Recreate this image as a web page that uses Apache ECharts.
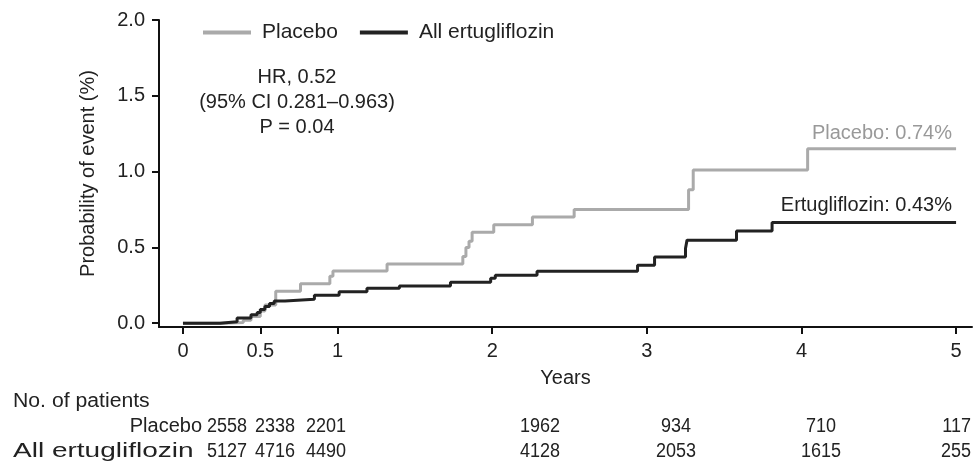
<!DOCTYPE html>
<html>
<head>
<meta charset="utf-8">
<script src="https://cdn.jsdelivr.net/npm/echarts@6/dist/echarts.min.js"></script>
<style>html,body{margin:0;padding:0;background:#fff;}#c{width:973px;height:465px;}</style>
</head>
<body>
<div id="c"></div>
<script>
// ---- Data ----
const placeboYears = [0, 0.25, 0.39, 0.44, 0.50, 0.53, 0.60, 0.76, 0.95, 0.97, 1.32, 1.81, 1.83, 1.85, 1.87, 2.01, 2.26, 2.53, 3.27, 3.30, 4.04, 5.00];
const placeboProb  = [0, 0.005, 0.02, 0.045, 0.08, 0.12, 0.21, 0.26, 0.31, 0.345, 0.39, 0.44, 0.50, 0.54, 0.60, 0.65, 0.70, 0.75, 0.88, 1.01, 1.15, 1.15];
const ertuYears = [0, 0.24, 0.35, 0.44, 0.48, 0.50, 0.53, 0.56, 0.59, 0.66, 0.85, 1.01, 1.19, 1.40, 1.73, 1.99, 2.02, 2.29, 2.94, 3.05, 3.25, 3.26, 3.58, 3.81, 5.00];
const ertuProb  = [0, 0.01, 0.035, 0.055, 0.07, 0.09, 0.11, 0.13, 0.147, 0.158, 0.185, 0.207, 0.23, 0.245, 0.27, 0.297, 0.317, 0.343, 0.383, 0.437, 0.493, 0.548, 0.609, 0.665, 0.665];
const xTicks = [0, 0.5, 1, 2, 3, 4, 5];
const yTicks = [0, 0.5, 1.0, 1.5, 2.0];
const seriesNames = ['Placebo', 'All ertugliflozin'];
const endLabels = ['Placebo: 0.74%', 'Ertugliflozin: 0.43%'];
const statLines = ['HR, 0.52', '(95% CI 0.281\u20130.963)', 'P = 0.04'];
const tableTitle = 'No. of patients';
const placeboAtRisk = ['2558', '2338', '2201', '1962', '934', '710', '117'];
const ertuAtRisk = ['5127', '4716', '4490', '4128', '2053', '1615', '255'];

// ---- Layout (pixels) ----
const FONT = '"Liberation Sans", Arial, Helvetica, sans-serif';
const colCenters = [227, 275, 326, 540, 676, 821, 971];
const rowY = [426, 451];

const chart = echarts.init(document.getElementById('c'));
const pairs = (xs, ys) => xs.map((x, i) => [x, ys[i]]);

function txt(t, x, y, align, fill, extra) {
  return Object.assign({type: 'text', x: x, y: y,
    style: {text: t, fill: fill || '#222', font: '20px ' + FONT, textAlign: align, textVerticalAlign: 'middle', align: align, verticalAlign: 'middle'}}, extra || {});
}

const graphics = [];
statLines.forEach((t, i) => graphics.push(txt(t, 297, 77 + i * 25, 'center')));
graphics.push(txt(endLabels[0], 952, 133, 'right', '#999'));
graphics.push(txt(endLabels[1], 952, 205, 'right', '#222'));
graphics.push(txt(tableTitle, 13, 401, 'left', '#222', {scaleX: 1.06}));
graphics.push(txt(seriesNames[0], 202, rowY[0], 'right'));
graphics.push(txt(seriesNames[1], 13, rowY[1], 'left', '#222', {scaleX: 1.4}));
[placeboAtRisk, ertuAtRisk].forEach((row, r) => {
  row.forEach((v, i) => {
    const last = i === row.length - 1;
    graphics.push(txt(v, colCenters[i], rowY[r], last ? 'right' : 'center', '#222', {scaleX: 0.9}));
  });
});

chart.setOption({
  animation: false,
  backgroundColor: '#fff',
  grid: {left: 159, right: 1, top: 20, bottom: 138, containLabel: false},
  legend: {
    left: 203, top: 22, padding: 0, itemWidth: 48, itemHeight: 4, itemGap: 22, icon: 'rect',
    data: seriesNames,
    textStyle: {fontSize: 21, fontFamily: FONT, color: '#222', padding: [0, 0, 0, 6]}
  },
  xAxis: {
    type: 'value', min: -0.155, max: 5.103,
    name: 'Years', nameLocation: 'middle', nameGap: 41,
    nameTextStyle: {fontSize: 20, fontFamily: FONT, color: '#222'},
    axisLine: {onZero: false, lineStyle: {color: '#111', width: 2}},
    axisTick: {show: true, length: 7, lineStyle: {color: '#111', width: 2}, customValues: xTicks},
    axisLabel: {fontSize: 20, fontFamily: FONT, color: '#222', margin: 14, customValues: xTicks, formatter: v => String(v)},
    splitLine: {show: false}
  },
  yAxis: {
    type: 'value', min: -0.025, max: 2.0,
    name: 'Probability of event (%)', nameLocation: 'middle', nameGap: 61, nameRotate: 90,
    nameTextStyle: {fontSize: 20, fontFamily: FONT, color: '#222'},
    axisLine: {show: true, onZero: false, lineStyle: {color: '#111', width: 2}},
    axisTick: {show: true, length: 7, lineStyle: {color: '#111', width: 2}, customValues: yTicks},
    axisLabel: {fontSize: 20, fontFamily: FONT, color: '#222', margin: 14, customValues: yTicks, formatter: v => v.toFixed(1)},
    splitLine: {show: false}
  },
  series: [
    {name: seriesNames[0], type: 'line', step: 'end', symbol: 'none', data: pairs(placeboYears, placeboProb),
     lineStyle: {color: '#aaaaaa', width: 3}, itemStyle: {color: '#aaaaaa'}, z: 2},
    {name: seriesNames[1], type: 'line', step: 'end', symbol: 'none', data: pairs(ertuYears, ertuProb),
     lineStyle: {color: '#222222', width: 3}, itemStyle: {color: '#222222'}, z: 3}
  ],
  graphic: graphics
});
</script>
</body>
</html>
